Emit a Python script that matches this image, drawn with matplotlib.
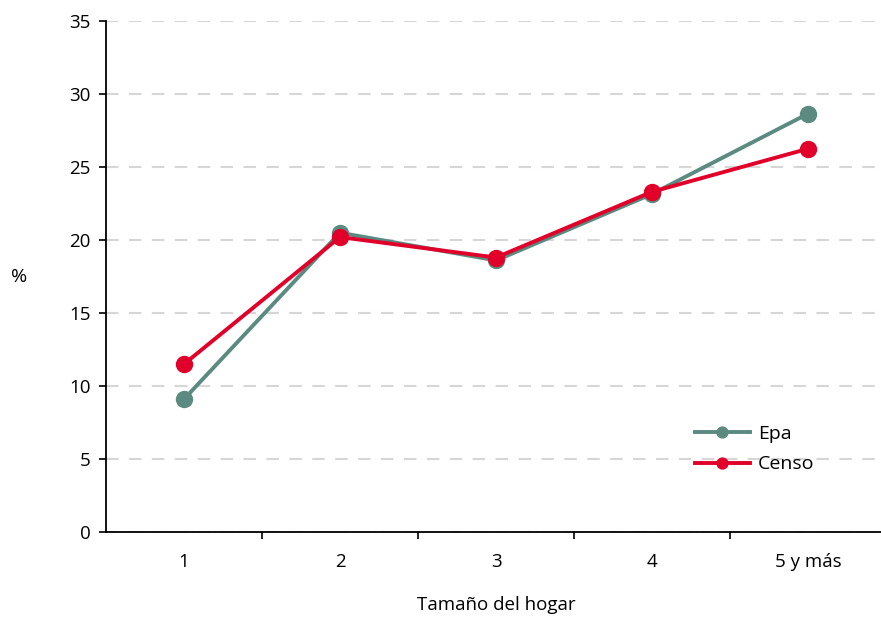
import matplotlib
matplotlib.use("Agg")
import matplotlib.pyplot as plt

categories = ["1", "2", "3", "4", "5 y más"]
epa = [9.1, 20.5, 18.6, 23.15, 28.65]
censo = [11.5, 20.2, 18.8, 23.3, 26.25]
yticks = [0, 5, 10, 15, 20, 25, 30, 35]

plt.rcParams['font.family'] = ['Open Sans', 'DejaVu Sans']
fig = plt.figure(figsize=(8.81, 6.23), dpi=100)
ax = fig.add_axes([106/881, 1-532/623, 780/881, (532-21)/623])

x = list(range(1, len(categories)+1))
ax.plot(x, epa, color='#5A8A80', lw=2.8, marker='o', ms=11.5, label='Epa', zorder=3)
ax.plot(x, censo, color='#E0002A', lw=2.8, marker='o', ms=11.5, label='Censo', zorder=4)

ax.set_xlim(0.5, 5.5)
ax.set_ylim(0, 35)
ax.set_yticks(yticks)
ax.set_yticklabels([str(v) for v in yticks], fontsize=13.5)
ax.set_xticks(x)
ax.set_xticklabels(categories, fontsize=13.5)
ax.tick_params(axis='x', which='major', length=0, pad=15)
ax.set_xticks([1.5, 2.5, 3.5, 4.5], minor=True)
ax.tick_params(axis='x', which='minor', length=5, width=1.2, direction='out')
ax.tick_params(axis='y', length=5, width=1.2, direction='out', pad=6)

for s in ['top', 'right']:
    ax.spines[s].set_visible(False)
for s in ['left', 'bottom']:
    ax.spines[s].set_linewidth(1.3)
    ax.spines[s].set_color('black')

ax.yaxis.grid(True, color='#d6d6d6', lw=1.5, ls=(0, (6, 5)))
ax.set_axisbelow(True)

ax.set_xlabel('Tamaño del hogar', fontsize=13.5, labelpad=18)
ax.set_ylabel('%', fontsize=14, rotation=0, va='center', ha='center')
ax.yaxis.set_label_coords(-0.111, 0.5)

leg = ax.legend(loc='upper left', bbox_to_anchor=(687/881, 1-417/623),
                bbox_transform=fig.transFigure, frameon=False,
                fontsize=14, handlelength=2.85, markerscale=0.68, labelspacing=0.65,
                handletextpad=0.4, borderaxespad=0)

fig.savefig('out.png', dpi=100)
